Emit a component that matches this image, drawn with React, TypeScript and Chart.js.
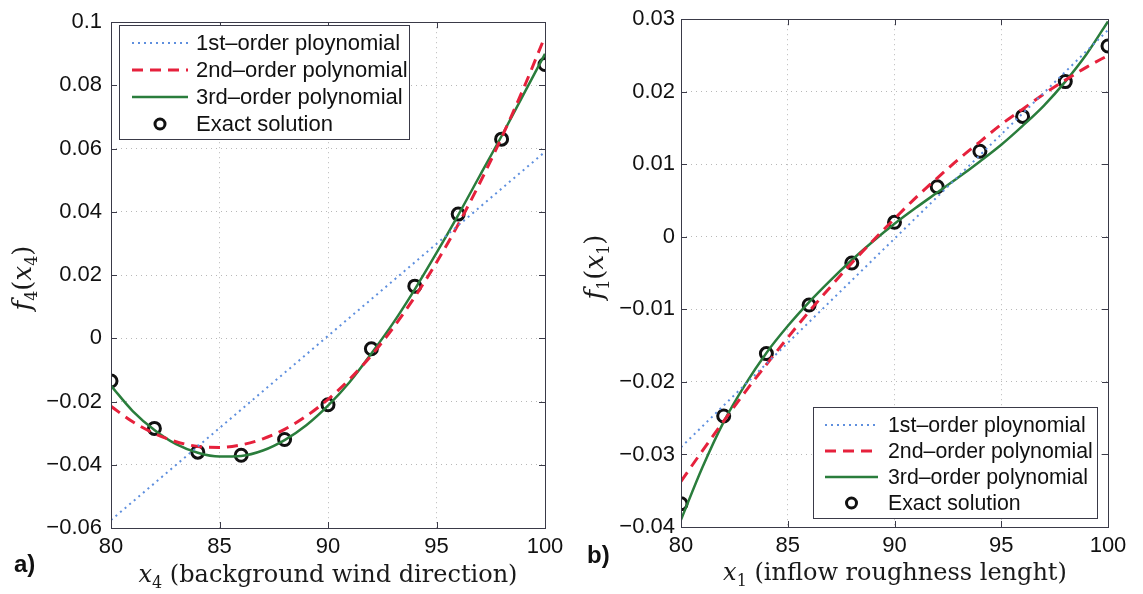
import React, { useEffect, useRef } from 'react';
import { Chart, registerables } from 'chart.js';
Chart.register(...registerables);

// ---------- Data ----------
const xFine = [80, 81, 82, 83, 84, 85, 86, 87, 88, 89, 90, 91, 92, 93, 94, 95, 96, 97, 98, 99, 100];
const xEnds = [80, 100];
const xExact = [80, 82, 84, 86, 88, 90, 92, 94, 96, 98, 100];

// Panel a) f4(x4)
const a1stOrder = [-0.0575, 0.059];
const a2ndOrder = [-0.0215, -0.0264, -0.0301, -0.0327, -0.0342, -0.0345, -0.0337, -0.0318, -0.0288, -0.0246, -0.0193,
  -0.0129, -0.0054, 0.0033, 0.0131, 0.024, 0.036, 0.0492, 0.0635, 0.0789, 0.0955];
const a3rdOrder = [-0.015, -0.023, -0.029, -0.0335, -0.0362, -0.0374, -0.0372, -0.0355, -0.0322, -0.0275, -0.0213,
  -0.0138, -0.0048, 0.0048, 0.0155, 0.027, 0.039, 0.0515, 0.064, 0.077, 0.09];
const aExact = [-0.0135, -0.0285, -0.036, -0.037, -0.032, -0.021, -0.0033, 0.0165, 0.0393, 0.063, 0.0866];

// Panel b) f1(x1)
const b1stOrder = [-0.029, 0.0285];
const b2ndOrder = [-0.0337, -0.0295, -0.0254, -0.0214, -0.0176, -0.0139, -0.0103, -0.0069, -0.0036, -0.0005, 0.0025,
  0.0054, 0.0081, 0.0107, 0.0131, 0.0155, 0.0176, 0.0197, 0.0216, 0.0234, 0.025];
const b3rdOrder = [-0.039, -0.0318, -0.0255, -0.0204, -0.016, -0.0123, -0.009, -0.006, -0.0032, -0.0006, 0.0018,
  0.004, 0.0061, 0.0082, 0.0104, 0.0127, 0.0153, 0.0181, 0.0214, 0.0252, 0.0297];
const bExact = [-0.0368, -0.0247, -0.0161, -0.0094, -0.0036, 0.002, 0.0069, 0.0118, 0.0166, 0.0214, 0.0263];

const legendLabels = ['1st\u2013order ploynomial', '2nd\u2013order polynomial', '3rd\u2013order polynomial', 'Exact solution'];

const xTickLabelsRange = { min: 80, max: 100, step: 5 };
const aYRange = { min: -0.06, max: 0.1, step: 0.02 };
const bYRange = { min: -0.04, max: 0.03, step: 0.01 };

// ---------- Styles ----------
const C_DOT = '#5e8fde';
const C_DASH = '#e6213c';
const C_SOLID = '#2a7d3c';
const C_CIRCLE = '#111111';
const SANS = '"Liberation Sans", Arial, sans-serif';
const SERIF = '"DejaVu Serif", "Liberation Serif", serif';

const zip = (xs: number[], ys: number[]) => xs.map((x, i) => ({ x, y: ys[i] }));

const fmtY = (v: number) => {
  const r = Math.round(v * 1000) / 1000;
  if (r === 0) return '0';
  return (r < 0 ? '\u2212' : '') + String(Math.abs(r));
};

type Part = { text: string; font: string; dy?: number };

function drawParts(ctx: CanvasRenderingContext2D, parts: Part[], cx: number, baseY: number) {
  let total = 0;
  const widths = parts.map((p) => {
    ctx.font = p.font;
    const w = ctx.measureText(p.text).width;
    total += w;
    return w;
  });
  let x = cx - total / 2;
  ctx.textAlign = 'left';
  ctx.textBaseline = 'alphabetic';
  parts.forEach((p, i) => {
    ctx.font = p.font;
    ctx.fillText(p.text, x, baseY + (p.dy || 0));
    x += widths[i];
  });
}

type Deco = {
  legend: { x: number; y: number; w: number; h: number; rows: number[]; s0: number; s1: number; tx: number; fs: number };
  xTitle: { parts: Part[]; cx: number; by: number };
  yTitle: { parts: Part[]; x: number; cy: number };
  panel: { text: string; x: number; by: number };
};

const decoPlugin = {
  id: 'deco',
  afterDraw(chart: any, _args: any, opts: Deco) {
    const ctx: CanvasRenderingContext2D = chart.ctx;
    const area = chart.chartArea;
    const xs = chart.scales.x;
    const ys = chart.scales.y;
    ctx.save();
    // frame
    ctx.setLineDash([]);
    ctx.strokeStyle = '#3a3a48';
    ctx.lineWidth = 1;
    ctx.strokeRect(Math.round(area.left) + 0.5, Math.round(area.top) + 0.5,
      Math.round(area.right - area.left), Math.round(area.bottom - area.top));
    // inward ticks
    const tl = 6;
    ctx.beginPath();
    xs.ticks.forEach((t: any) => {
      const px = Math.round(xs.getPixelForValue(t.value)) + 0.5;
      ctx.moveTo(px, area.bottom); ctx.lineTo(px, area.bottom - tl);
      ctx.moveTo(px, area.top); ctx.lineTo(px, area.top + tl);
    });
    ys.ticks.forEach((t: any) => {
      const py = Math.round(ys.getPixelForValue(t.value)) + 0.5;
      ctx.moveTo(area.left, py); ctx.lineTo(area.left + tl, py);
      ctx.moveTo(area.right, py); ctx.lineTo(area.right - tl, py);
    });
    ctx.stroke();

    // legend
    const L = opts.legend;
    ctx.fillStyle = '#ffffff';
    ctx.fillRect(L.x, L.y, L.w, L.h);
    ctx.strokeStyle = '#3a3a48';
    ctx.lineWidth = 1;
    ctx.strokeRect(L.x + 0.5, L.y + 0.5, L.w, L.h);
    const styles = [
      { c: C_DOT, w: 2, d: [2, 4] },
      { c: C_DASH, w: 3, d: [11, 7] },
      { c: C_SOLID, w: 2.5, d: [] as number[] },
    ];
    styles.forEach((s, i) => {
      ctx.beginPath();
      ctx.strokeStyle = s.c;
      ctx.lineWidth = s.w;
      ctx.setLineDash(s.d);
      ctx.moveTo(L.s0, L.rows[i]);
      ctx.lineTo(L.s1, L.rows[i]);
      ctx.stroke();
    });
    ctx.setLineDash([]);
    ctx.beginPath();
    ctx.strokeStyle = C_CIRCLE;
    ctx.lineWidth = 3;
    ctx.arc((L.s0 + L.s1) / 2, L.rows[3], 5, 0, Math.PI * 2);
    ctx.stroke();
    ctx.fillStyle = '#111';
    ctx.font = `${L.fs}px ${SANS}`;
    ctx.textAlign = 'left';
    ctx.textBaseline = 'middle';
    legendLabels.forEach((lab, i) => ctx.fillText(lab, L.tx, L.rows[i] + 1));

    // x title
    ctx.fillStyle = '#1a1a1a';
    drawParts(ctx, opts.xTitle.parts, opts.xTitle.cx, opts.xTitle.by);
    // y title
    ctx.save();
    ctx.translate(opts.yTitle.x, opts.yTitle.cy);
    ctx.rotate(-Math.PI / 2);
    drawParts(ctx, opts.yTitle.parts, 0, 0);
    ctx.restore();
    // panel label
    ctx.fillStyle = '#111';
    ctx.font = `bold 24px ${SANS}`;
    ctx.textAlign = 'left';
    ctx.textBaseline = 'alphabetic';
    ctx.fillText(opts.panel.text, opts.panel.x, opts.panel.by);
    ctx.restore();
  },
};

function makeConfig(
  lin: number[], quad: number[], cub: number[], exact: number[],
  yr: { min: number; max: number; step: number },
  pad: { left: number; right: number; top: number; bottom: number },
  yWidth: number, xHeight: number, yLabelPad: number, deco: Deco,
): any {
  return {
    type: 'line',
    data: {
      datasets: [
        { data: zip(xEnds, lin), borderColor: C_DOT, borderWidth: 2, borderDash: [2, 4], pointRadius: 0, fill: false },
        { data: zip(xFine, quad), borderColor: C_DASH, borderWidth: 3, borderDash: [11, 7], pointRadius: 0, fill: false, cubicInterpolationMode: 'monotone' },
        { data: zip(xFine, cub), borderColor: C_SOLID, borderWidth: 2.5, pointRadius: 0, fill: false, cubicInterpolationMode: 'monotone' },
        { data: zip(xExact, exact), showLine: false, pointRadius: 6, pointBorderWidth: 3, pointBorderColor: C_CIRCLE, pointBackgroundColor: 'rgba(0,0,0,0)', pointStyle: 'circle' },
      ],
    },
    options: {
      animation: false,
      responsive: false,
      devicePixelRatio: 1,
      layout: { padding: pad },
      plugins: { legend: { display: false }, tooltip: { enabled: false }, deco },
      scales: {
        x: {
          type: 'linear',
          min: xTickLabelsRange.min,
          max: xTickLabelsRange.max,
          afterFit: (s: any) => { s.height = xHeight; },
          ticks: { stepSize: xTickLabelsRange.step, autoSkip: false, maxRotation: 0, padding: 6, color: '#111', font: { family: SANS, size: 22 } },
          grid: { color: '#b8b8b8', lineWidth: 1, drawTicks: false },
          border: { display: false, dash: [1, 4] },
        },
        y: {
          type: 'linear',
          min: yr.min,
          max: yr.max,
          afterFit: (s: any) => { s.width = yWidth; },
          ticks: { stepSize: yr.step, autoSkip: false, padding: yLabelPad, color: '#111', font: { family: SANS, size: 22 }, callback: (v: number) => fmtY(v) },
          grid: { color: '#b8b8b8', lineWidth: 1, drawTicks: false },
          border: { display: false, dash: [1, 4] },
        },
      },
    },
    plugins: [decoPlugin],
  };
}

const italic = (s: string, size = 24): Part => ({ text: s, font: `italic ${size}px ${SERIF}` });
const roman = (s: string, size = 24): Part => ({ text: s, font: `${size}px ${SERIF}` });
const sub = (s: string): Part => ({ text: s, font: `16px ${SERIF}`, dy: 6 });

export default function App() {
  const ref1 = useRef<HTMLCanvasElement>(null);
  const ref2 = useRef<HTMLCanvasElement>(null);

  useEffect(() => {
    const decoA: Deco = {
      legend: { x: 119, y: 25, w: 290, h: 114, rows: [43, 70, 97, 124], s0: 132, s1: 188, tx: 196, fs: 22 },
      xTitle: { parts: [italic('x'), sub('4'), roman(' (background wind direction)')], cx: 328, by: 582 },
      yTitle: { parts: [italic('f', 26), sub('4'), roman('(', 26), italic('x', 26), sub('4'), roman(')', 26)], x: 31, cy: 278 },
      panel: { text: 'a)', x: 14, by: 572 },
    };
    const decoB: Deco = {
      legend: { x: 813 - 570, y: 407, w: 284, h: 111, rows: [425, 451, 477, 503], s0: 825 - 570, s1: 878 - 570, tx: 888 - 570, fs: 21.3 },
      xTitle: { parts: [italic('x'), sub('1'), roman(' (inflow roughness lenght)')], cx: 895 - 570, by: 580 },
      yTitle: { parts: [italic('f', 26), sub('1'), roman('(', 26), italic('x', 26), sub('1'), roman(')', 26)], x: 33, cy: 267 },
      panel: { text: 'b)', x: 17, by: 563 },
    };
    const c1 = new Chart(ref1.current as HTMLCanvasElement,
      makeConfig(a1stOrder, a2ndOrder, a3rdOrder, aExact, aYRange,
        { left: 0, right: 25, top: 16, bottom: 0 }, 111, 66, 9, decoA));
    const c2 = new Chart(ref2.current as HTMLCanvasElement,
      makeConfig(b1stOrder, b2ndOrder, b3rdOrder, bExact, bYRange,
        { left: 0, right: 35, top: 16, bottom: 0 }, 111, 67, 6, decoB));
    return () => { c1.destroy(); c2.destroy(); };
  }, []);

  return (
    <div style={{ position: 'absolute', left: 0, top: 0, width: 1143, height: 594, background: '#fff', overflow: 'hidden' }}>
      <canvas ref={ref1} width={570} height={594} style={{ position: 'absolute', left: 0, top: 0, width: 570, height: 594 }} />
      <canvas ref={ref2} width={573} height={594} style={{ position: 'absolute', left: 570, top: 0, width: 573, height: 594 }} />
    </div>
  );
}
